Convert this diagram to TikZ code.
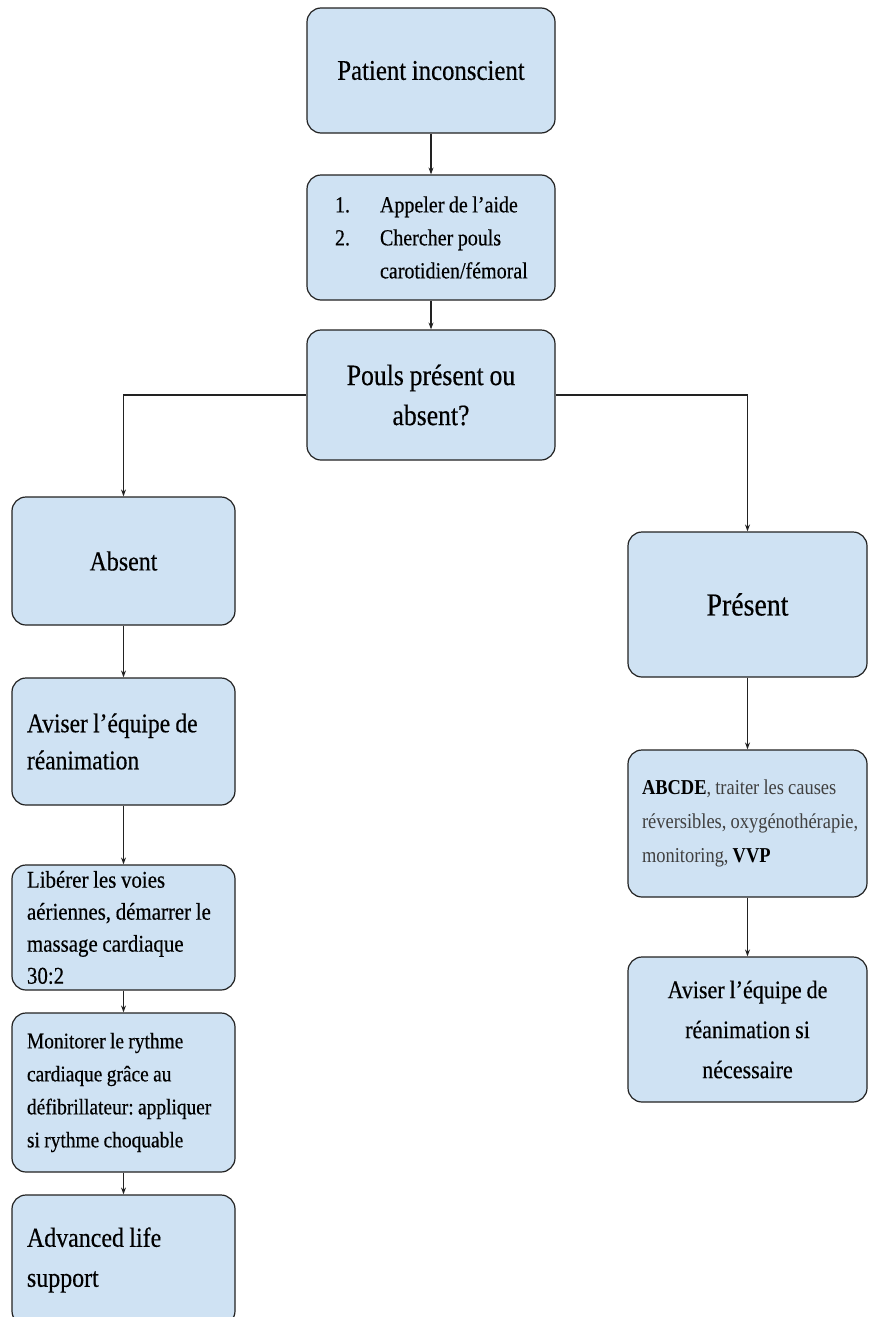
\documentclass[tikz,border=0pt]{standalone}
\usepackage{fontspec}
\setmainfont{Liberation Serif}[FakeStretch=0.87,WordSpace=0.9,FakeBold=0.4]
\newfontfamily\lightfont{Liberation Serif}[FakeStretch=0.87,WordSpace=0.9]
\usetikzlibrary{arrows.meta}
\definecolor{boxblue}{HTML}{CFE2F3}
\definecolor{edge}{HTML}{222222}
\newcommand\oneline[1]{\mbox{#1}}
\tikzset{
  box/.style={draw=edge, fill=boxblue, rounded corners=14pt, line width=1.2pt,
    inner ysep=0pt, inner xsep=15pt, align=flush center, text=black},
  leftbox/.style={box, align=flush left},
  arr/.style={draw=edge, line width=1.1pt, -{Stealth[length=7pt,width=5pt]}}
}
\begin{document}
\begin{tikzpicture}[x=1pt,y=-1pt]
\frenchspacing\hyphenpenalty=10000
\useasboundingbox (0,0) rectangle (868,1317);
% top column
\node[box, minimum width=248pt, minimum height=125pt, text width=218pt,
  font=\fontsize{28.5}{36}\selectfont] (b1) at (431,70.5) {Patient inconscient};
\node[leftbox, minimum width=248pt, minimum height=125pt, inner xsep=28pt, text width=192pt,
  font=\fontsize{23}{33}\selectfont] (b2) at (431,237.5)
  {\oneline{\makebox[45pt][l]{1.}Appeler de l’aide}\\\oneline{\makebox[45pt][l]{2.}Chercher pouls}\\\oneline{\hspace*{45pt}carotidien/fémoral}};
\node[box, minimum width=248pt, minimum height=130pt, text width=218pt,
  font=\fontsize{29.5}{40}\selectfont] (b3) at (431,395) {Pouls présent ou\\absent?};
% left column
\node[box, minimum width=223pt, minimum height=128pt, text width=193pt,
  font=\fontsize{27.5}{36}\selectfont] (abs) at (123.5,561) {Absent};
\node[leftbox, minimum width=223pt, minimum height=127pt, text width=193pt,
  font=\fontsize{27}{37}\selectfont] (avi) at (123.5,741.5) {Aviser l’équipe de\\réanimation};
\node[leftbox, minimum width=223pt, minimum height=125pt, text width=193pt,
  font=\fontsize{24}{32}\selectfont] (lib) at (123.5,927.5)
  {Libérer les voies\\\oneline{aériennes, démarrer le}\\massage cardiaque\\30:2};
\node[leftbox, minimum width=223pt, minimum height=159pt, text width=193pt,
  font=\fontsize{22.3}{33}\selectfont] (mon) at (123.5,1092.5)
  {Monitorer le rythme\\cardiaque grâce au\\\oneline{défibrillateur: appliquer}\\si rythme choquable};
\node[leftbox, minimum width=223pt, minimum height=130pt, text width=193pt,
  font=\fontsize{27.5}{40}\selectfont] (adv) at (123.5,1260) {Advanced life\\support};
% right column
\node[box, minimum width=239pt, minimum height=145pt, text width=209pt,
  font=\fontsize{32}{40}\selectfont] (pres) at (747.5,604.5) {Présent};
\node[leftbox, minimum width=239pt, minimum height=147pt, inner xsep=14pt, text width=211pt,
  font=\lightfont\fontsize{21.2}{34}\selectfont, text=black!75] (abc) at (747.5,823.5)
  {\oneline{\textbf{\color{black}ABCDE}, traiter les causes}\\\oneline{réversibles, oxygénothérapie,}\\\oneline{monitoring, \textbf{\color{black}VVP}}};
\node[box, minimum width=239pt, minimum height=145pt, text width=209pt,
  font=\fontsize{25.3}{40}\selectfont] (avs) at (747.5,1029.5)
  {Aviser l’équipe de\\réanimation si\\nécessaire};
% connectors
\draw[arr] (b1) -- (b2);
\draw[arr] (b2) -- (b3);
\draw[arr] (b3.west) -| (abs.north);
\draw[arr] (b3.east) -| (pres.north);
\draw[arr] (abs) -- (avi);
\draw[arr] (avi) -- (lib);
\draw[arr] (lib) -- (mon);
\draw[arr] (mon) -- (adv);
\draw[arr] (pres) -- (abc);
\draw[arr] (abc) -- (avs);
\end{tikzpicture}
\end{document}
